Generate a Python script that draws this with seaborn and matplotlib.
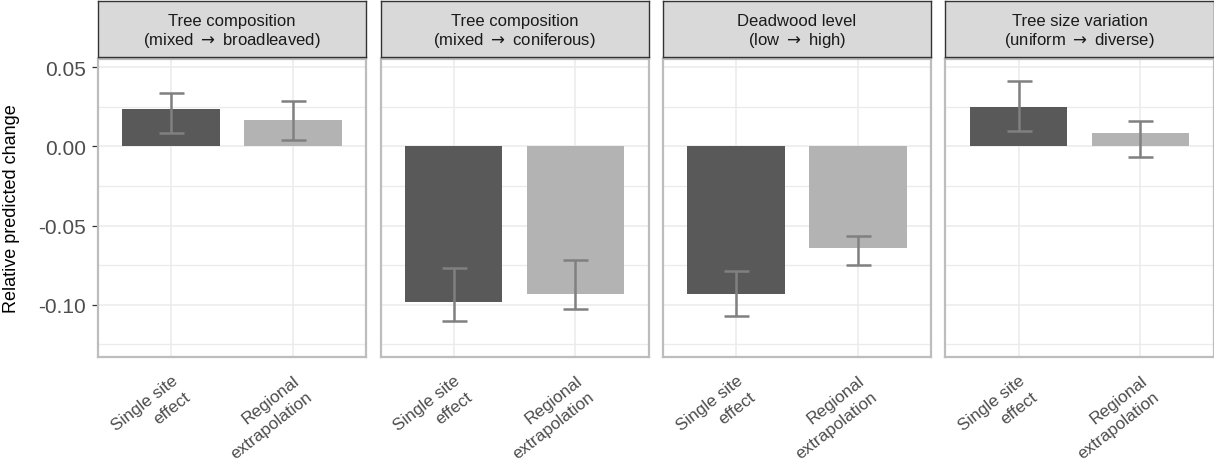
import matplotlib
matplotlib.use("Agg")
import matplotlib.pyplot as plt
import seaborn as sns
import numpy as np
import pandas as pd

# ---------------- data ----------------
facets = ["Tree composition\n(mixed $\\rightarrow$ broadleaved)",
          "Tree composition\n(mixed $\\rightarrow$ coniferous)",
          "Deadwood level\n(low $\\rightarrow$ high)",
          "Tree size variation\n(uniform $\\rightarrow$ diverse)"]
categories = ["Single site\neffect", "Regional\nextrapolation"]

single_vals = [0.0234, -0.0985, -0.0935, 0.0247]
single_lo = [0.0082, -0.1100, -0.1074, 0.0097]
single_hi = [0.0335, -0.0770, -0.0790, 0.0410]

regional_vals = [0.0165, -0.0935, -0.0643, 0.0082]
regional_lo = [0.0041, -0.1025, -0.0751, -0.0070]
regional_hi = [0.0285, -0.0717, -0.0565, 0.0163]

y_ticks = [0.05, 0.00, -0.05, -0.10]
y_ticklabels = ["0.05", "0.00", "-0.05", "-0.10"]
y_minor = [0.025, -0.025, -0.075, -0.125]

rows = []
for i, f in enumerate(facets):
    rows.append(dict(facet=f, type=categories[0], value=single_vals[i],
                     lo=single_lo[i], hi=single_hi[i]))
    rows.append(dict(facet=f, type=categories[1], value=regional_vals[i],
                     lo=regional_lo[i], hi=regional_hi[i]))
df = pd.DataFrame(rows)

# ---------------- style ----------------
sns.set_style("white")
plt.rcParams["font.family"] = ["Liberation Sans", "DejaVu Sans"]
plt.rcParams["mathtext.fontset"] = "dejavusans"

palette = {categories[0]: "#595959", categories[1]: "#b3b3b3"}
W, H = 1214, 464
fig = plt.figure(figsize=(W / 100, H / 100), dpi=100)

panel_left0 = 98
panel_w = 268
gap = 14.5
panel_top = 60
panel_bot = 358
strip_top = 2
strip_bot = 58.3

for i, f in enumerate(facets):
    left = panel_left0 + i * (panel_w + gap)
    ax = fig.add_axes([left / W, (H - panel_bot) / H, panel_w / W,
                       (panel_bot - panel_top) / H])
    sub = df[df.facet == f]
    sns.barplot(data=sub, x="type", y="value", hue="type", order=categories,
                hue_order=categories, palette=palette, width=0.8,
                saturation=1, edgecolor="none", linewidth=0, legend=False,
                errorbar=None, ax=ax, zorder=2)
    yv = sub["value"].to_numpy()
    err = np.vstack([yv - sub["lo"].to_numpy(), sub["hi"].to_numpy() - yv])
    ax.errorbar(np.arange(len(categories)), yv, yerr=err, fmt="none",
                ecolor="#808080", elinewidth=1.8, capsize=9, capthick=1.8,
                zorder=3)
    ax.set_xlim(-0.6, 1.6)
    ax.set_ylim(-0.133, 0.0552)
    ax.set_yticks(y_ticks)
    ax.set_yticks(y_minor, minor=True)
    ax.set_axisbelow(True)
    ax.grid(True, which="major", color="#ebebeb", lw=1.1, zorder=0)
    ax.grid(True, which="minor", axis="y", color="#ebebeb", lw=0.9, zorder=0)
    for s in ax.spines.values():
        s.set_visible(True)
        s.set_color("#bdbdbd")
        s.set_linewidth(1.6)
        s.set_zorder(5)
    ax.set_xlabel("")
    ax.set_ylabel("")
    ax.tick_params(axis="x", which="major", length=4.3, width=0.9,
                   color="#333333", pad=7.0)
    ax.set_xticks(range(len(categories)))
    ax.set_xticklabels(categories, rotation=38, ha="right", va="top",
                       rotation_mode="anchor", fontsize=12.3,
                       color="#4d4d4d", multialignment="right",
                       linespacing=1.45)
    if i == 0:
        ax.set_yticklabels(y_ticklabels, fontsize=15, color="#4d4d4d")
        ax.tick_params(axis="y", which="major", length=4.3, width=0.9,
                       color="#333333", pad=4.5, left=True)
        ax.tick_params(axis="y", which="minor", length=0)
    else:
        ax.tick_params(axis="y", which="both", left=False, labelleft=False)

    # strip
    sax = fig.add_axes([left / W, (H - strip_bot) / H, panel_w / W,
                        (strip_bot - strip_top) / H])
    sax.set_facecolor("#d9d9d9")
    sax.set_xticks([])
    sax.set_yticks([])
    for s in sax.spines.values():
        s.set_visible(True)
        s.set_color("#333333")
        s.set_linewidth(1.0)
    sax.text(0.5, 0.47, f, ha="center", va="center", fontsize=12,
             color="#1a1a1a", linespacing=1.15, transform=sax.transAxes)

fig.text(12 / W, (H - (panel_top + panel_bot) / 2) / H,
         "Relative predicted change", rotation=90, ha="center", va="center",
         fontsize=13, color="#000000")

fig.savefig("out.png", dpi=100)
